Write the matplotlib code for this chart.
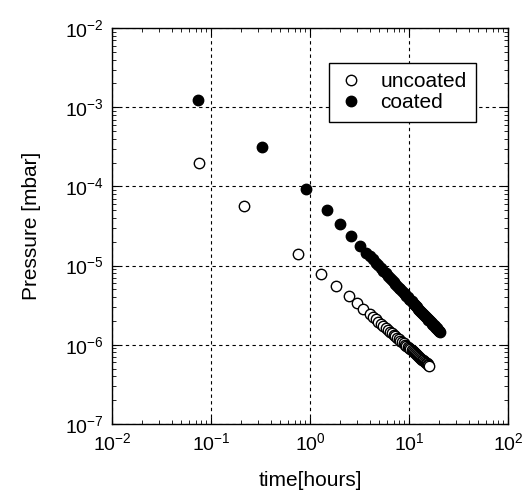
import numpy as np
import matplotlib
matplotlib.use("Agg")
import matplotlib.pyplot as plt

plt.rcParams['font.family'] = ['Liberation Sans', 'DejaVu Sans']
plt.rcParams['mathtext.default'] = 'regular'

# uncoated sample: time [h], pressure [mbar]
t_uncoated = [0.0754, 0.214, 0.757, 1.28, 1.85, 2.46, 3.0, 3.46,
              4.0, 4.3, 4.6, 4.9, 5.2, 5.5, 5.8, 6.1, 6.4, 6.7,
              7.0, 7.3, 7.6, 7.9, 8.2, 8.5, 8.8, 9.1, 9.4, 9.7,
              10.0, 10.3, 10.6, 10.9, 11.2, 11.5, 11.8, 12.1, 12.4, 12.7,
              13.0, 13.3, 13.6, 13.9, 14.2, 14.5, 14.8, 15.1, 15.4, 15.7, 16.0]
p_uncoated = [1.97e-4, 5.63e-5, 1.42e-5, 7.9e-6, 5.58e-6, 4.12e-6, 3.34e-6, 2.86e-6,
              2.44e-6, 2.26e-6, 2.10e-6, 1.96e-6, 1.84e-6, 1.73e-6, 1.64e-6, 1.55e-6, 1.47e-6, 1.40e-6,
              1.34e-6, 1.28e-6, 1.22e-6, 1.17e-6, 1.125e-6, 1.083e-6, 1.043e-6, 1.006e-6, 9.71e-7, 9.39e-7,
              9.09e-7, 8.81e-7, 8.53e-7, 8.28e-7, 8.04e-7, 7.81e-7, 7.60e-7, 7.40e-7, 7.20e-7, 7.02e-7,
              6.85e-7, 6.68e-7, 6.52e-7, 6.37e-7, 6.22e-7, 6.09e-7, 5.95e-7, 5.83e-7, 5.70e-7, 5.58e-7, 5.47e-7]

# coated sample
t_coated = [0.074, 0.326, 0.91, 1.47, 2.01, 2.58, 3.20, 3.71,
            4.0, 4.3, 4.6, 4.9, 5.2, 5.5, 5.8, 6.1, 6.4, 6.7,
            7.0, 7.3, 7.6, 7.9, 8.2, 8.5, 8.8, 9.1, 9.4, 9.7,
            10.0, 10.3, 10.6, 10.9, 11.2, 11.5, 11.8, 12.1, 12.4, 12.7,
            13.0, 13.3, 13.6, 13.9, 14.2, 14.5, 14.8, 15.1, 15.4, 15.7,
            16.0, 16.3, 16.6, 16.9, 17.2, 17.5, 17.8, 18.1, 18.4, 18.7,
            19.0, 19.3, 19.6, 19.9, 20.2, 20.5]
p_coated = [1.24e-3, 3.12e-4, 9.3e-5, 5.10e-5, 3.34e-5, 2.39e-5, 1.785e-5, 1.46e-5,
            1.320e-5, 1.198e-5, 1.093e-5, 1.004e-5, 9.27e-6, 8.59e-6, 8.00e-6, 7.47e-6, 7.00e-6, 6.58e-6,
            6.20e-6, 5.86e-6, 5.55e-6, 5.27e-6, 5.01e-6, 4.77e-6, 4.55e-6, 4.35e-6, 4.17e-6, 3.99e-6,
            3.83e-6, 3.68e-6, 3.54e-6, 3.41e-6, 3.29e-6, 3.17e-6, 3.06e-6, 2.96e-6, 2.86e-6, 2.77e-6,
            2.69e-6, 2.61e-6, 2.53e-6, 2.46e-6, 2.39e-6, 2.32e-6, 2.26e-6, 2.20e-6, 2.14e-6, 2.08e-6,
            2.03e-6, 1.98e-6, 1.93e-6, 1.89e-6, 1.84e-6, 1.80e-6, 1.76e-6, 1.72e-6, 1.68e-6, 1.65e-6,
            1.61e-6, 1.58e-6, 1.545e-6, 1.51e-6, 1.48e-6, 1.45e-6]

fig = plt.figure(figsize=(5.3, 4.93), dpi=100)
ax = fig.add_axes([0.2113, 0.140, 0.7472, 0.803])

ax.plot(t_uncoated, p_uncoated, 'o', ms=7.5, mfc='white', mec='black', mew=1.0, label='uncoated')
ax.plot(t_coated, p_coated, 'o', ms=7.5, mfc='black', mec='black', mew=1.0, label='coated')

ax.set_xscale('log')
ax.set_yscale('log')
ax.set_xlim(1e-2, 1e2)
ax.set_ylim(1e-7, 1e-2)

ax.grid(True, which='major', color='black', linestyle=(0, (3, 3)), linewidth=0.8)
ax.tick_params(which='both', direction='in', top=True, right=True, labelsize=14, pad=6)
ax.tick_params(which='major', length=5)
ax.tick_params(which='minor', length=3)
for s in ax.spines.values():
    s.set_linewidth(1.0)

ax.set_xlabel('time[hours]', fontsize=15, labelpad=12)
ax.set_ylabel('Pressure [mbar]', fontsize=15, labelpad=17)

leg = ax.legend(loc='upper right', bbox_to_anchor=(0.919, 0.912), borderaxespad=0,
                fontsize=15, fancybox=False, framealpha=1, edgecolor='black',
                handletextpad=0.8, borderpad=0.45, labelspacing=0.1, handlelength=1.2)
leg.get_frame().set_linewidth(1.0)

fig.savefig('out.png', dpi=100)
